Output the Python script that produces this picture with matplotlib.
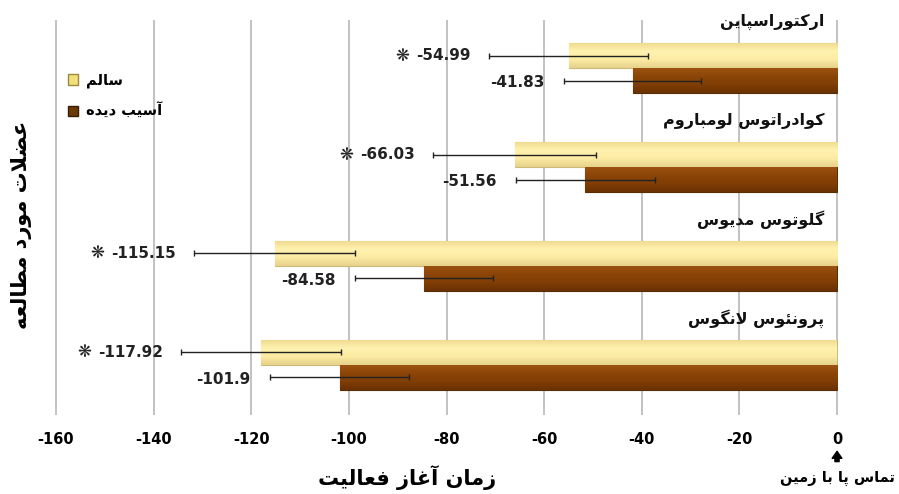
import matplotlib
matplotlib.use("Agg")
import numpy as np
import matplotlib.pyplot as plt
from matplotlib.patches import Rectangle
from matplotlib.colors import LinearSegmentedColormap

# --- datos ---
musculos = ["ارکتوراسپاین", "کوادراتوس لومباروم", "گلوتوس مدیوس", "پرونئوس لانگوس"]
sano = [-54.99, -66.03, -115.15, -117.92]
lesionado = [-41.83, -51.56, -84.58, -101.9]
err_sano = [16.3, 16.7, 16.5, 16.4]
err_lesionado = [14.0, 14.2, 14.1, 14.2]
leyenda = ["سالم", "آسیب دیده"]
xticks = [-160, -140, -120, -100, -80, -60, -40, -20, 0]

# formas de presentacion: aislada, final, inicial, medial
FORMAS = {
    "ا": ("\ufe8d", "\ufe8e", None, None),
    "آ": ("\ufe81", "\ufe82", None, None),
    "ب": ("\ufe8f", "\ufe90", "\ufe91", "\ufe92"),
    "پ": ("\ufb56", "\ufb57", "\ufb58", "\ufb59"),
    "ت": ("\ufe95", "\ufe96", "\ufe97", "\ufe98"),
    "د": ("\ufea9", "\ufeaa", None, None),
    "ر": ("\ufead", "\ufeae", None, None),
    "ز": ("\ufeaf", "\ufeb0", None, None),
    "س": ("\ufeb1", "\ufeb2", "\ufeb3", "\ufeb4"),
    "ض": ("\ufebd", "\ufebe", "\ufebf", "\ufec0"),
    "ط": ("\ufec1", "\ufec2", "\ufec3", "\ufec4"),
    "ع": ("\ufec9", "\ufeca", "\ufecb", "\ufecc"),
    "غ": ("\ufecd", "\ufece", "\ufecf", "\ufed0"),
    "ف": ("\ufed1", "\ufed2", "\ufed3", "\ufed4"),
    "ک": ("\ufb8e", "\ufb8f", "\ufb90", "\ufb91"),
    "گ": ("\ufb92", "\ufb93", "\ufb94", "\ufb95"),
    "ل": ("\ufedd", "\ufede", "\ufedf", "\ufee0"),
    "م": ("\ufee1", "\ufee2", "\ufee3", "\ufee4"),
    "ن": ("\ufee5", "\ufee6", "\ufee7", "\ufee8"),
    "ه": ("\ufee9", "\ufeea", "\ufeeb", "\ufeec"),
    "و": ("\ufeed", "\ufeee", None, None),
    "ی": ("\ufbfc", "\ufbfd", "\ufbfe", "\ufbff"),
    "ئ": ("\ufe89", "\ufe8a", "\ufe8b", "\ufe8c"),
}


def rtl(texto):
    # unir letras y dar vuelta el orden (matplotlib no hace shaping)
    salida = []
    i = 0
    while i < len(texto):
        c = texto[i]
        previo = texto[i - 1] if i > 0 else ""
        une_previo = previo in FORMAS and FORMAS[previo][2] is not None
        if c == "ل" and i + 1 < len(texto) and texto[i + 1] == "ا":
            salida.append("\ufefc" if une_previo else "\ufefb")
            i += 2
            continue
        if c not in FORMAS:
            salida.append(c)
            i += 1
            continue
        sig = texto[i + 1] if i + 1 < len(texto) else ""
        une_sig = sig in FORMAS and FORMAS[c][2] is not None
        f = FORMAS[c]
        if une_previo and une_sig:
            salida.append(f[3])
        elif une_previo:
            salida.append(f[1])
        elif une_sig:
            salida.append(f[2])
        else:
            salida.append(f[0])
        i += 1
    return "".join(reversed(salida))


def degradado(ax, barras, colores):
    # relleno con degradado vertical, estilo Excel
    cmap = LinearSegmentedColormap.from_list("g", colores)
    grad = np.linspace(0, 1, 64).reshape(-1, 1)
    for b in barras:
        x0, y0 = b.get_x(), b.get_y()
        w, hh = b.get_width(), b.get_height()
        im = ax.imshow(grad, cmap=cmap, aspect="auto", origin="upper",
                       extent=(x0, x0 + w, y0 + hh, y0), zorder=2)
        im.set_clip_path(b)


plt.rcParams['font.family'] = ['DejaVu Sans']
fig = plt.figure(figsize=(8.99, 4.94), dpi=100)
ax = fig.add_axes([55 / 899, 79 / 494, 783 / 899, 395 / 494])

h = 0.253
pos = list(range(len(musculos)))
y_sano = [p - h / 2 for p in pos]
y_les = [p + h / 2 for p in pos]

b1 = ax.barh(y_sano, sano, height=h, color="#FCEDA3", edgecolor="#CDB97A", linewidth=0.8, zorder=2)
b2 = ax.barh(y_les, lesionado, height=h, color="#8E4508", edgecolor="#5A2C05", linewidth=0.8, zorder=2)
degradado(ax, b1, ["#F0DC90", "#FFF2B0", "#FCEBA2", "#E6D18A"])
degradado(ax, b2, ["#9C5211", "#8C4507", "#803D05", "#6A3103"])
ax.errorbar(sano, y_sano, xerr=err_sano, fmt="none", ecolor="#222222", elinewidth=1, capsize=2.5, zorder=3)
ax.errorbar(lesionado, y_les, xerr=err_lesionado, fmt="none", ecolor="#222222", elinewidth=1, capsize=2.5, zorder=3)

for i in pos:
    t = ax.text(sano[i] - err_sano[i] - 3.8, y_sano[i], "%g" % sano[i], ha="right", va="center",
                fontsize=11, fontweight="bold", color="#222222")
    ax.annotate("❋", xy=(0, 0.5), xycoords=t, xytext=(-5, 0), textcoords="offset points",
                ha="right", va="center", fontsize=12, color="#222222")
    ax.text(lesionado[i] - err_lesionado[i] - 4, y_les[i] + 0.02, "%g" % lesionado[i], ha="right", va="center",
            fontsize=11, fontweight="bold", color="#222222")
    ax.text(-2.6, i - 0.47, rtl(musculos[i]), ha="right", va="center",
            fontsize=11.5, fontweight="bold", color="#111111")

ax.set_xlim(-160.2, 0.2)
ax.set_ylim(3.51, -0.49)
ax.set_xticks(xticks)
ax.set_xticklabels([str(t) for t in xticks], fontsize=10.5, fontweight="bold")
ax.set_yticks([])
ax.tick_params(axis="x", length=0, pad=12)
ax.grid(axis="x", color="#BDBDBD", linewidth=1.3, zorder=0)
ax.set_axisbelow(True)
for s in ax.spines.values():
    s.set_visible(False)

handles = [Rectangle((0, 0), 1, 1, facecolor="#F2E07A", edgecolor="#9C8A3A"),
           Rectangle((0, 0), 1, 1, facecolor="#6B3A06", edgecolor="#3A1E02")]
ax.legend(handles, [rtl(t) for t in leyenda], loc="upper left", bbox_to_anchor=(0.0, 0.9),
          frameon=False, handlelength=0.7, handleheight=0.7, handletextpad=0.5, labelspacing=1.0,
          prop={"size": 10.5, "weight": "bold"})

fig.text(407 / 899, 1 - 478 / 494, rtl("زمان آغاز فعالیت"), ha="center", va="center",
         fontsize=15, fontweight="bold")
fig.text(22 / 899, 1 - 225 / 494, rtl("عضلات مورد مطالعه"), ha="center", va="center",
         rotation=90, fontsize=15, fontweight="bold")
fig.text(895 / 899, 1 - 478 / 494, rtl("تماس پا با زمین"), ha="right", va="center",
         fontsize=10.5, fontweight="bold")
ax.annotate("", xy=(0, -0.085), xytext=(0, -0.125), xycoords=("data", "axes fraction"),
            arrowprops=dict(arrowstyle="simple,head_width=0.7,head_length=0.5,tail_width=0.3",
                            color="black"))

fig.savefig("out.png", dpi=100)
